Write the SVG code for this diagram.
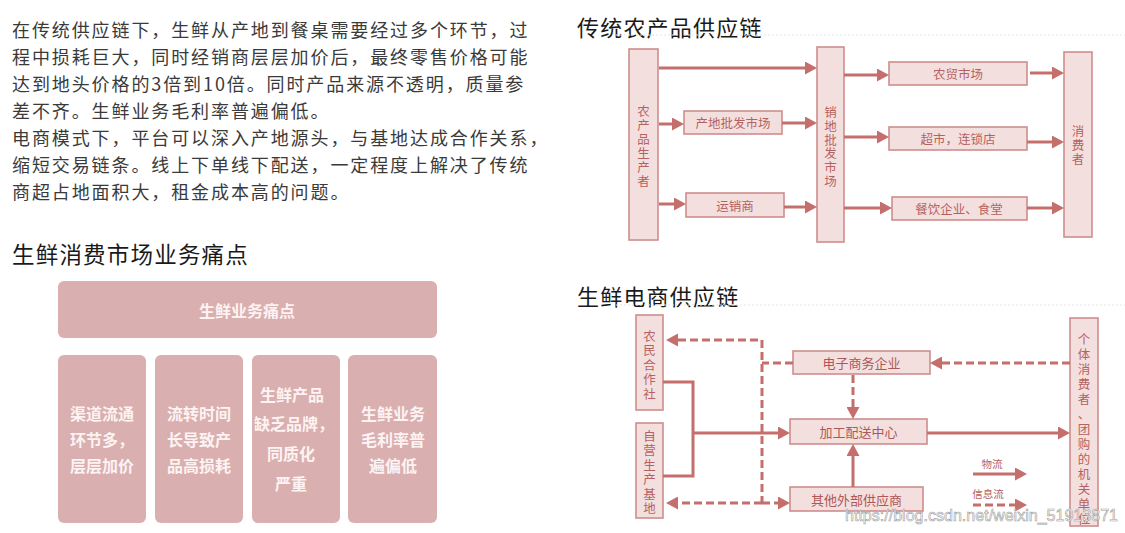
<svg xmlns="http://www.w3.org/2000/svg" width="1125" height="533" viewBox="0 0 1125 533">
<defs>
<style>
.body{font-family:"Noto Sans CJK SC","Noto Sans",sans-serif;font-size:18px;letter-spacing:1.9px;fill:#3a3a3a;dominant-baseline:central}
.h{font-family:"Noto Sans CJK SC","Noto Sans",sans-serif;font-size:22px;letter-spacing:1.2px;fill:#1a1a1a;dominant-baseline:central}
.pp{fill:#d9afaf}
.pt{font-family:"Noto Sans CJK SC",sans-serif;font-size:16px;font-weight:bold;fill:#fdf3f3;dominant-baseline:central;text-anchor:middle}
.box{fill:#f4dfdf;stroke:#cd8e8c;stroke-width:1.6}
.lbl{font-family:"Noto Sans CJK SC",sans-serif;font-size:12.5px;fill:#b4625f;dominant-baseline:central;text-anchor:middle}
.lbl2{font-family:"Noto Sans CJK SC",sans-serif;font-size:13px;fill:#ad5856;dominant-baseline:central;text-anchor:middle}
.ln{fill:none;stroke:#c46f6c;stroke-width:3}
.dash{stroke-dasharray:8 4}
.arr{marker-end:url(#ah)}
.wm{font-family:"Liberation Sans",Arial,sans-serif;font-size:16.5px;fill:#ffffff;stroke:#9c9c9c;stroke-width:0.6}
.faint{stroke:#e6e6e6;stroke-width:1;stroke-dasharray:2 2}
</style>
<marker id="ah" viewBox="0 0 12 13" refX="0" refY="6.5" markerWidth="12" markerHeight="13" markerUnits="userSpaceOnUse" orient="auto">
<path d="M0,0 L12,6.5 L0,13 z" fill="#c46f6c"/>
</marker>
</defs>
<rect width="1125" height="533" fill="#ffffff"/>

<g id="intro">
<text class="body" x="12" y="29">在传统供应链下，生鲜从产地到餐桌需要经过多个环节，过</text>
<text class="body" x="12" y="56">程中损耗巨大，同时经销商层层加价后，最终零售价格可能</text>
<text class="body" x="12" y="83">达到地头价格的3倍到10倍。同时产品来源不透明，质量参</text>
<text class="body" x="12" y="110">差不齐。生鲜业务毛利率普遍偏低。</text>
<text class="body" x="12" y="137">电商模式下，平台可以深入产地源头，与基地达成合作关系，</text>
<text class="body" x="12" y="164">缩短交易链条。线上下单线下配送，一定程度上解决了传统</text>
<text class="body" x="12" y="191">商超占地面积大，租金成本高的问题。</text>
</g>

<g id="painpoints">
<text class="h" x="12" y="253" style="font-size:22.5px">生鲜消费市场业务痛点</text>
<g id="pp-title"><rect class="pp" x="58" y="281" width="379" height="57" rx="6"/><text class="pt" x="247" y="310">生鲜业务痛点</text></g>
<g id="pp-1"><rect class="pp" x="58" y="355" width="88" height="168" rx="6"/>
<text class="pt" x="102" y="413">渠道流通</text><text class="pt" x="70" y="439" style="text-anchor:start">环节多，</text><text class="pt" x="102" y="465">层层加价</text></g>
<g id="pp-2"><rect class="pp" x="155" y="355" width="88" height="168" rx="6"/>
<text class="pt" x="199" y="413">流转时间</text><text class="pt" x="199" y="439">长导致产</text><text class="pt" x="199" y="465">品高损耗</text></g>
<g id="pp-3"><rect class="pp" x="252" y="355" width="88" height="168" rx="6"/>
<text class="pt" x="292" y="394">生鲜产品</text><text class="pt" x="294" y="423">缺乏品牌，</text><text class="pt" x="291" y="453">同质化</text><text class="pt" x="291" y="483">严重</text></g>
<g id="pp-4"><rect class="pp" x="348" y="355" width="89" height="168" rx="6"/>
<text class="pt" x="393" y="413">生鲜业务</text><text class="pt" x="393" y="439">毛利率普</text><text class="pt" x="393" y="465">遍偏低</text></g>
</g>

<g id="traditional">
<text class="h" x="577" y="26">传统农产品供应链</text>
<line class="faint" x1="616" y1="35" x2="1125" y2="35"/>
<g id="t-producer"><rect class="box" x="629" y="49" width="29" height="191"/>
<text class="lbl" x="643.5" y="110">农</text><text class="lbl" x="643.5" y="124">产</text><text class="lbl" x="643.5" y="138">品</text><text class="lbl" x="643.5" y="152">生</text><text class="lbl" x="643.5" y="166">产</text><text class="lbl" x="643.5" y="180">者</text></g>
<g id="t-origin"><rect class="box" x="684" y="111" width="98" height="23"/><text class="lbl" x="733" y="122.5">产地批发市场</text></g>
<g id="t-transport"><rect class="box" x="686" y="193" width="98" height="24"/><text class="lbl" x="735" y="205">运销商</text></g>
<g id="t-wholesale"><rect class="box" x="817" y="47" width="27" height="195"/>
<text class="lbl" x="830.5" y="111">销</text><text class="lbl" x="830.5" y="125">地</text><text class="lbl" x="830.5" y="139">批</text><text class="lbl" x="830.5" y="152">发</text><text class="lbl" x="830.5" y="166">市</text><text class="lbl" x="830.5" y="180">场</text></g>
<g id="t-farmmarket"><rect class="box" x="889" y="62" width="138" height="23"/><text class="lbl" x="958" y="73.5">农贸市场</text></g>
<g id="t-super"><rect class="box" x="889" y="127" width="138" height="23"/><text class="lbl" x="958" y="138.5">超市，连锁店</text></g>
<g id="t-catering"><rect class="box" x="892" y="197" width="135" height="23"/><text class="lbl" x="959" y="208.5">餐饮企业、食堂</text></g>
<g id="t-consumer"><rect class="box" x="1064" y="52" width="28" height="185"/>
<text class="lbl" x="1078" y="130">消</text><text class="lbl" x="1078" y="144">费</text><text class="lbl" x="1078" y="158">者</text></g>
</g>

<g id="traditional-connectors">
<line class="ln arr" x1="659" y1="68" x2="805" y2="68"/>
<line class="ln arr" x1="659" y1="124" x2="672" y2="124"/>
<line class="ln arr" x1="782" y1="123" x2="805" y2="123"/>
<line class="ln arr" x1="659" y1="204" x2="674" y2="204"/>
<line class="ln arr" x1="784" y1="207" x2="805" y2="207"/>
<line class="ln arr" x1="844" y1="75" x2="877" y2="75"/>
<line class="ln arr" x1="1030" y1="73" x2="1052" y2="73"/>
<line class="ln arr" x1="844" y1="137" x2="877" y2="137"/>
<line class="ln arr" x1="1027" y1="142" x2="1052" y2="142"/>
<line class="ln arr" x1="844" y1="208" x2="880" y2="208"/>
<line class="ln arr" x1="1027" y1="208" x2="1052" y2="208"/>
</g>

<g id="ecommerce">
<text class="h" x="577" y="295">生鲜电商供应链</text>
<line class="faint" x1="616" y1="305" x2="1125" y2="305"/>
<g id="e-coop"><rect class="box" x="636" y="315" width="27" height="95"/>
<text class="lbl" x="649.5" y="335">农</text><text class="lbl" x="649.5" y="349.5">民</text><text class="lbl" x="649.5" y="364">合</text><text class="lbl" x="649.5" y="378.5">作</text><text class="lbl" x="649.5" y="393">社</text></g>
<g id="e-base"><rect class="box" x="636" y="423" width="27" height="95"/>
<text class="lbl" x="649.5" y="435">自</text><text class="lbl" x="649.5" y="449.5">营</text><text class="lbl" x="649.5" y="464">生</text><text class="lbl" x="649.5" y="478.5">产</text><text class="lbl" x="649.5" y="493">基</text><text class="lbl" x="649.5" y="507">地</text></g>
<g id="e-ecom"><rect class="box" x="793" y="351" width="137" height="23"/><text class="lbl2" x="861.5" y="362.5">电子商务企业</text></g>
<g id="e-center"><rect class="box" x="790" y="419" width="137" height="25"/><text class="lbl2" x="858.5" y="431.5">加工配送中心</text></g>
<g id="e-other"><rect class="box" x="790" y="487" width="133" height="24"/><text class="lbl2" x="856.5" y="499">其他外部供应商</text></g>
<g id="e-consumer"><rect class="box" x="1070" y="318" width="28" height="208"/>
<text class="lbl" x="1084" y="338">个</text><text class="lbl" x="1084" y="353">体</text><text class="lbl" x="1084" y="368">消</text><text class="lbl" x="1084" y="383">费</text><text class="lbl" x="1084" y="398">者</text><text class="lbl" x="1084" y="413">、</text><text class="lbl" x="1084" y="428">团</text><text class="lbl" x="1084" y="443">购</text><text class="lbl" x="1084" y="458">的</text><text class="lbl" x="1084" y="473">机</text><text class="lbl" x="1084" y="488">关</text><text class="lbl" x="1084" y="503">单</text><text class="lbl" x="1084" y="518">位</text></g>
<g id="e-legend">
<text class="lbl" x="992" y="463" style="font-size:10.5px">物流</text>
<text class="lbl" x="988" y="493" style="font-size:10.5px">信息流</text>
</g>
</g>

<g id="ecommerce-connectors">
<polyline class="ln dash" points="678,340 762,340 762,503"/>
<path d="M666,340 L678,333.5 L678,346.5 z" fill="#c46f6c"/>
<line class="ln dash" x1="793" y1="363" x2="762" y2="363"/>
<polyline class="ln" points="663,382 693,382 693,476 663,476"/>
<line class="ln arr" x1="693" y1="433" x2="778" y2="433"/>
<line class="ln dash arr" x1="762" y1="503" x2="678" y2="503"/>
<line class="ln dash arr" x1="762" y1="503" x2="778" y2="503"/>
<line class="ln dash arr" x1="1070" y1="363" x2="942" y2="363"/>
<line class="ln dash arr" x1="853" y1="375" x2="853" y2="407"/>
<line class="ln arr" x1="853" y1="487" x2="853" y2="456"/>
<line class="ln arr" x1="927" y1="433" x2="1058" y2="433"/>
<line class="ln arr" x1="973" y1="474" x2="1015" y2="474"/>
<line class="ln dash arr" x1="973" y1="505" x2="1015" y2="505"/>
</g>

<text class="wm" x="845" y="521" textLength="273" lengthAdjust="spacingAndGlyphs">https://blog.csdn.net/weixin_51913871</text>
</svg>
